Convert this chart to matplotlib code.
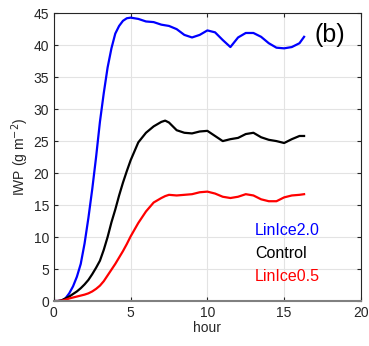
import matplotlib
matplotlib.use("Agg")
import matplotlib.pyplot as plt
import numpy as np

plt.rcParams['font.family'] = ['Liberation Sans', 'DejaVu Sans']

# time axis (hours)
hours = [0.0, 0.25, 0.5, 0.75, 1.0, 1.25, 1.5, 1.75, 2.0, 2.25, 2.5, 2.75,
         3.0, 3.25, 3.5, 3.75, 4.0, 4.25, 4.5, 4.75, 5.0, 5.5, 6.0, 6.5,
         7.0, 7.25, 7.5, 8.0, 8.5, 9.0, 9.5, 10.0, 10.5, 11.0, 11.5, 12.0,
         12.5, 13.0, 13.5, 14.0, 14.5, 15.0, 15.5, 16.0, 16.3]

linice20 = [0.0, 0.0, 0.05, 0.4, 1.2, 2.3, 3.8, 5.8, 9.0, 13.0, 17.5, 22.5,
            28.0, 32.5, 36.5, 39.5, 41.8, 43.0, 43.8, 44.2, 44.3, 44.1,
            43.7, 43.6, 43.2, 43.1, 43.0, 42.5, 41.6, 41.2, 41.6, 42.3, 42.0,
            40.8, 39.7, 41.2, 41.9, 41.9, 41.3, 40.3, 39.6, 39.5, 39.7, 40.3,
            41.3]

control = [0.0, 0.0, 0.1, 0.4, 0.7, 1.1, 1.5, 2.0, 2.6, 3.3, 4.2, 5.2,
           6.3, 8.0, 10.0, 12.3, 14.3, 16.5, 18.5, 20.3, 22.0, 24.8,
           26.3, 27.3, 28.0, 28.2, 27.9, 26.7, 26.3, 26.2, 26.5, 26.6, 25.8,
           25.0, 25.3, 25.5, 26.1, 26.3, 25.6, 25.2, 25.0, 24.7, 25.3, 25.8,
           25.8]

linice05 = [0.0, 0.0, 0.05, 0.2, 0.4, 0.55, 0.7, 0.85, 1.0, 1.2, 1.5, 1.9,
            2.4, 3.1, 4.0, 4.9, 5.8, 6.8, 7.8, 8.9, 10.1, 12.2, 14.0, 15.4,
            16.1, 16.4, 16.6, 16.5, 16.6, 16.7, 17.0, 17.1, 16.8, 16.3, 16.1,
            16.3, 16.7, 16.5, 15.9, 15.6, 15.6, 16.2, 16.5, 16.6, 16.7]

series = [("LinIce2.0", linice20, "#0000ff"),
          ("Control", control, "#000000"),
          ("LinIce0.5", linice05, "#ff0000")]

fig = plt.figure(figsize=(3.69, 3.46), dpi=100)
ax = fig.add_axes([0.146, 0.130, 0.832, 0.832])

for name, vals, col in series:
    ax.plot(hours, vals, color=col, linewidth=1.6)

ax.set_xlim(0, 20)
ax.set_ylim(0, 45)
ax.set_xticks([0, 5, 10, 15, 20])
ax.set_yticks(np.arange(0, 46, 5))
ax.grid(True, color="#e3e3e3", linewidth=0.8)
ax.set_axisbelow(True)
ax.tick_params(direction="in", top=True, right=True, labelsize=10,
               colors="#262626", length=3)
for s in ax.spines.values():
    s.set_color("#262626")
    s.set_linewidth(0.8)
ax.spines["bottom"].set_color("#808080")
ax.spines["bottom"].set_linewidth(1.5)

ax.set_xlabel("hour", fontsize=10, color="#262626", labelpad=1)
ax.set_ylabel(r"IWP (g m$^{-2}$)", fontsize=10, color="#262626", labelpad=2)

ax.text(0.95, 0.925, "(b)", transform=ax.transAxes, fontsize=18,
        ha="right", va="center")

# coloured text legend
for i, (name, vals, col) in enumerate(series):
    ax.text(0.655, 0.245 - i * 0.08, name, transform=ax.transAxes,
            fontsize=11.5, color=col, ha="left", va="center")

fig.savefig("out.png", dpi=100)
